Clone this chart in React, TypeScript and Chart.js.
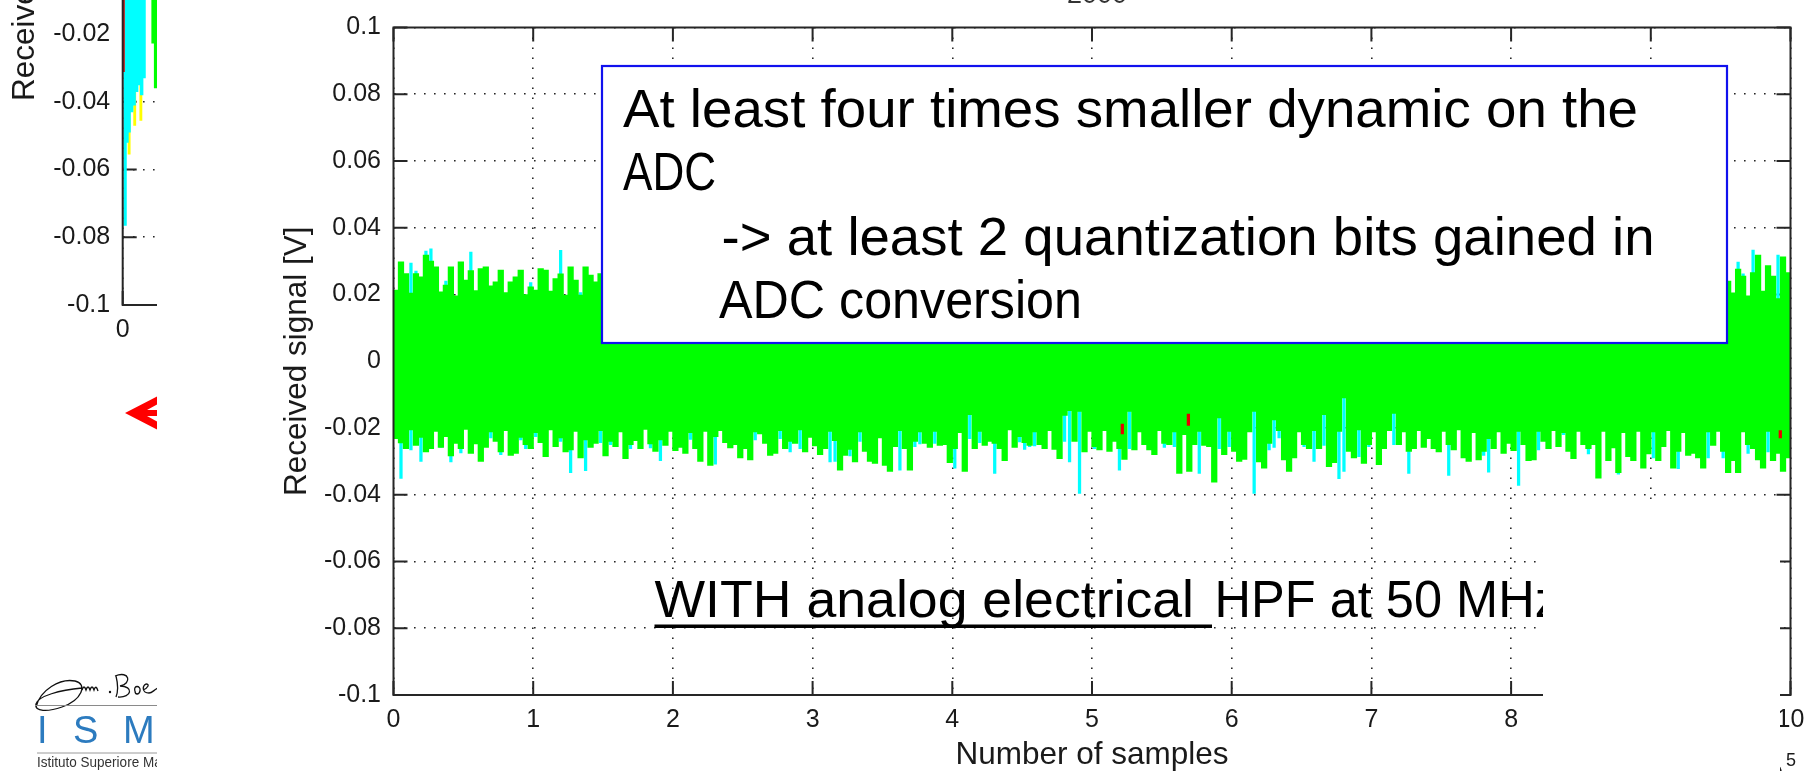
import React, { useEffect, useRef } from 'react';
import { Chart, registerables } from 'chart.js';

Chart.register(...registerables);

const FONT = "'Liberation Sans', Arial, Helvetica, sans-serif";

// ---------- axes ----------
const X_TICK_LABELS = ['0', '1', '2', '3', '4', '5', '6', '7', '8', '9', '10'];
const Y_TICK_LABELS = ['-0.1', '-0.08', '-0.06', '-0.04', '-0.02', '0', '0.02', '0.04', '0.06', '0.08', '0.1'];
const X_MAX = 10; // x 10^5 samples
const UNIT = 1e-4; // all signal arrays below are in units of 0.1 mV

// ---------- main plot: per-bin envelope (280 bins over 0..10 x10^5 samples) ----------
const greenLo = [
  -232, -245, -262, -206, -252, -228, -272, -262, -210, -258, -226, -284, -246, -262, -204, -276, -248, -300, -258, -212,
  -240, -272, -208, -282, -276, -228, -250, -262, -214, -244, -286, -206, -256, -230, -272, -266, -210, -290, -236, -258,
  -246, -208, -284, -240, -256, -212, -292, -250, -238, -262, -204, -248, -270, -236, -252, -210, -268, -258, -276, -214,
  -262, -300, -210, -312, -226, -208, -244, -260, -250, -290, -262, -296, -212, -218, -246, -282, -276, -208, -262, -240,
  -246, -206, -272, -228, -254, -280, -262, -210, -238, -326, -282, -264, -302, -212, -270, -300, -306, -230, -312, -330,
  -256, -208, -262, -326, -240, -212, -246, -258, -210, -252, -250, -304, -262, -214, -330, -160, -262, -210, -252, -240,
  -246, -262, -298, -206, -258, -226, -244, -252, -212, -250, -262, -208, -264, -292, -162, -148, -240, -150, -272, -210,
  -256, -266, -208, -270, -240, -262, -294, -150, -266, -212, -250, -266, -280, -208, -246, -250, -212, -336, -220, -330,
  -250, -210, -252, -256, -362, -170, -280, -210, -270, -300, -294, -212, -150, -302, -320, -246, -176, -208, -296, -330,
  -290, -212, -250, -262, -208, -262, -160, -316, -304, -210, -110, -270, -290, -206, -306, -250, -212, -310, -262, -208,
  -156, -250, -212, -270, -262, -208, -258, -232, -262, -272, -210, -250, -266, -206, -290, -300, -214, -296, -270, -232,
  -262, -212, -276, -246, -268, -210, -250, -298, -296, -210, -240, -262, -208, -256, -214, -270, -292, -210, -250, -262,
  -250, -350, -210, -298, -260, -334, -214, -286, -298, -210, -320, -278, -212, -298, -256, -208, -320, -270, -214, -282,
  -276, -290, -320, -212, -252, -210, -270, -334, -298, -334, -212, -250, -262, -296, -320, -210, -298, -276, -330, -290,
];
const greenHi = [
  213, 298, 263, 204, 263, 253, 318, 300, 283, 208, 228, 283, 196, 298, 243, 272, 212, 278, 283, 226,
  238, 273, 206, 238, 253, 273, 200, 223, 213, 278, 273, 210, 248, 262, 198, 283, 243, 198, 283, 258,
  238, 263, 250, 228, 276, 244, 262, 232, 290, 248, 236, 270, 254, 226, 282, 246, 260, 238, 272, 250,
  244, 268, 232, 286, 256, 240, 262, 298, 236, 252, 274, 246, 230, 264, 250, 288, 242, 258, 236, 270,
  256, 240, 276, 232, 262, 294, 248, 236, 268, 254, 242, 280, 230, 258, 272, 246, 236, 290, 252, 264,
  240, 262, 250, 284, 236, 256, 270, 244, 232, 278, 258, 240, 300, 248, 262, 236, 274, 252, 242, 266,
  250, 236, 272, 258, 244, 288, 234, 262, 250, 240, 276, 256, 232, 268, 246, 296, 254, 238, 262, 248,
  262, 244, 236, 280, 254, 240, 266, 250, 292, 238, 258, 246, 272, 234, 260, 250, 284, 242, 256, 236,
  246, 270, 252, 238, 264, 248, 296, 236, 258, 274, 242, 254, 234, 282, 250, 262, 240, 268, 246, 258,
  236, 258, 284, 246, 232, 266, 250, 272, 240, 256, 298, 244, 262, 236, 254, 278, 248, 232, 266, 252,
  270, 248, 236, 262, 288, 242, 256, 234, 276, 250, 264, 240, 254, 292, 238, 260, 246, 272, 232, 258,
  248, 262, 240, 274, 252, 236, 286, 258, 244, 266, 232, 254, 280, 246, 262, 238, 270, 250, 242, 294,
  256, 238, 268, 244, 260, 250, 232, 278, 254, 242, 288, 236, 262, 248, 270, 240, 256, 284, 246, 234,
  262, 240, 274, 250, 236, 268, 252, 240, 205, 276, 255, 196, 266, 318, 210, 287, 255, 188, 313, 266,
];
const cyanLo = [
  -226, -351, -250, -266, -240, -300, -262, -250, -204, -258, -220, -302, -240, -275, -200, -270, -240, -296, -252, -230,
  -232, -280, -200, -276, -270, -236, -262, -256, -226, -238, -280, -200, -250, -240, -266, -334, -204, -284, -328, -250,
  -240, -244, -278, -250, -250, -206, -286, -262, -232, -256, -200, -260, -262, -298, -246, -204, -262, -252, -270, -234,
  -256, -296, -204, -306, -308, -202, -238, -256, -246, -286, -256, -290, -236, -212, -240, -276, -270, -232, -256, -272,
  -240, -262, -266, -222, -250, -274, -256, -302, -300, -320, -276, -284, -296, -240, -262, -294, -300, -224, -306, -324,
  -250, -326, -258, -320, -256, -248, -240, -252, -246, -246, -244, -298, -320, -208, -324, -232, -256, -244, -246, -234,
  -336, -256, -292, -200, -252, -242, -264, -256, -254, -244, -256, -202, -258, -286, -240, -302, -236, -396, -266, -204,
  -262, -260, -202, -266, -236, -326, -288, -262, -260, -206, -246, -262, -276, -202, -258, -246, -256, -330, -216, -324,
  -244, -336, -248, -250, -356, -262, -274, -256, -264, -294, -288, -206, -396, -296, -314, -266, -258, -230, -290, -324,
  -284, -206, -256, -256, -300, -256, -252, -310, -298, -352, -330, -264, -284, -286, -300, -256, -206, -304, -256, -202,
  -250, -246, -206, -336, -256, -202, -252, -226, -256, -266, -204, -342, -262, -200, -284, -294, -208, -290, -282, -332,
  -256, -206, -270, -240, -262, -372, -244, -292, -290, -266, -234, -256, -202, -250, -220, -264, -286, -204, -246, -278,
  -244, -344, -204, -292, -254, -338, -208, -280, -292, -204, -314, -272, -290, -292, -250, -202, -314, -322, -208, -276,
  -270, -284, -314, -290, -246, -204, -290, -328, -292, -328, -206, -276, -256, -290, -314, -272, -292, -270, -324, -284,
];
const cyanHi = [
  205, 290, 258, 294, 270, 246, 330, 337, 276, 200, 240, 276, 190, 292, 236, 327, 206, 272, 278, 220,
  232, 266, 200, 232, 246, 266, 196, 236, 206, 272, 266, 204, 242, 332, 192, 276, 236, 206, 276, 252,
  232, 258, 244, 222, 270, 238, 256, 226, 284, 242, 230, 264, 248, 220, 276, 240, 254, 232, 266, 244,
  238, 262, 226, 280, 250, 234, 256, 292, 230, 246, 268, 240, 224, 258, 244, 282, 236, 252, 230, 264,
  250, 234, 270, 226, 256, 288, 242, 230, 262, 248, 236, 274, 224, 252, 266, 240, 230, 284, 246, 258,
  234, 256, 244, 278, 230, 250, 264, 238, 226, 272, 252, 234, 294, 242, 256, 230, 268, 246, 236, 260,
  244, 230, 266, 252, 238, 282, 228, 256, 244, 234, 270, 250, 226, 262, 240, 290, 248, 232, 256, 242,
  256, 238, 230, 274, 248, 234, 260, 244, 286, 232, 252, 240, 266, 228, 254, 244, 278, 236, 250, 230,
  240, 264, 246, 232, 258, 242, 290, 230, 252, 268, 236, 248, 228, 276, 244, 256, 234, 262, 240, 252,
  230, 252, 278, 240, 226, 260, 244, 266, 234, 250, 292, 238, 256, 230, 248, 272, 242, 226, 260, 246,
  264, 242, 230, 256, 282, 236, 250, 228, 270, 244, 258, 234, 248, 286, 232, 254, 240, 266, 226, 252,
  242, 256, 234, 268, 246, 230, 280, 252, 238, 260, 226, 248, 274, 240, 256, 232, 264, 244, 236, 288,
  250, 232, 262, 238, 254, 244, 226, 272, 248, 236, 282, 230, 256, 242, 264, 234, 250, 278, 240, 228,
  256, 234, 268, 244, 230, 262, 246, 234, 200, 297, 262, 190, 333, 312, 204, 281, 250, 318, 308, 262,
];
// sparse red samples (x in 10^5 samples)
const redX = [5.217, 5.69, 9.927];
const redLo = [-218, -192, -230];
const redHi = [-188, -158, -208];

// ---------- partially visible left plot ----------
const leftCyanX = [0.017, 0.031, 0.046, 0.064, 0.082, 0.1, 0.118, 0.136, 0.153];
const leftCyanLo = [-765, -520, -490, -430, -410, -370, -350, -380, -330];
const leftCyanHi = [600, 600, 600, 600, 600, 600, 600, 600, 600];
const leftYellowX = [0.046, 0.086, 0.13];
const leftYellowLo = [-555, -470, -455];
const leftYellowHi = [500, 500, 500];
const leftGreenX = [0.217, 0.235];
const leftGreenLo = [-227, -359];
const leftGreenHi = [500, 500];
const leftRedX = [0.006];
const leftRedLo = [-311];
const leftRedHi = [400];

const binWidth = X_MAX / greenLo.length;
const binned = (lo: number[], hi: number[]) =>
  lo.map((l, i) => ({ x: (i + 0.5) * binWidth, y: [l * UNIT, hi[i] * UNIT] }));
const pointsAt = (xs: number[], lo: number[], hi: number[]) =>
  xs.map((x, i) => ({ x, y: [lo[i] * UNIT, hi[i] * UNIT] }));

const findLabel = (labels: string[], v: number) =>
  labels.find((l) => Math.abs(parseFloat(l) - v) < 1e-6) ?? '';

const framePlugin = {
  id: 'matlabFrame',
  beforeDatasetsDraw(chart: any) {
    const { ctx, chartArea: a, scales } = chart;
    const x = scales.x;
    const y = scales.y;
    const len = 14;
    ctx.save();
    ctx.strokeStyle = '#262626';
    ctx.lineWidth = 2;
    ctx.beginPath();
    x.ticks.forEach((t: any) => {
      const px = x.getPixelForValue(t.value);
      ctx.moveTo(px, a.bottom);
      ctx.lineTo(px, a.bottom - len);
      ctx.moveTo(px, a.top);
      ctx.lineTo(px, a.top + len);
    });
    y.ticks.forEach((t: any) => {
      const py = y.getPixelForValue(t.value);
      ctx.moveTo(a.left, py);
      ctx.lineTo(a.left + len, py);
      ctx.moveTo(a.right, py);
      ctx.lineTo(a.right - len, py);
    });
    ctx.stroke();
    ctx.restore();
  },
  afterDatasetsDraw(chart: any) {
    const { ctx, chartArea: a } = chart;
    ctx.save();
    ctx.strokeStyle = '#262626';
    ctx.lineWidth = 2;
    ctx.strokeRect(a.left, a.top, a.right - a.left, a.bottom - a.top);
    ctx.restore();
  },
};

function buildConfig(opts: {
  datasets: any[];
  yWidth: number;
  xHeight: number;
  padding: any;
  yTitlePad: number;
  xTitlePad: number;
}) {
  const tickFont = { family: FONT, size: 25 };
  const titleFont = { family: FONT, size: 31.5 };
  const grid = { color: '#262626', lineWidth: 1.6, drawTicks: false, offset: false };
  const border = { display: false, dash: [1.6, 8.4] };
  return {
    type: 'bar',
    data: { datasets: opts.datasets },
    options: {
      animation: false,
      responsive: false,
      maintainAspectRatio: false,
      events: [],
      layout: { padding: opts.padding },
      datasets: { bar: { grouped: false, borderWidth: 0 } },
      plugins: { legend: { display: false }, tooltip: { enabled: false }, title: { display: false } },
      scales: {
        x: {
          type: 'linear',
          min: 0,
          max: X_MAX,
          offset: false,
          grid,
          border,
          ticks: {
            stepSize: 1,
            autoSkip: false,
            maxRotation: 0,
            color: '#1a1a1a',
            font: tickFont,
            padding: 10,
            callback: (v: number) => findLabel(X_TICK_LABELS, v),
          },
          title: {
            display: true,
            text: 'Number of samples',
            color: '#1a1a1a',
            font: titleFont,
            padding: { top: 0, bottom: opts.xTitlePad },
          },
          afterFit: (s: any) => {
            s.height = opts.xHeight;
          },
        },
        y: {
          type: 'linear',
          min: -0.1,
          max: 0.1,
          grid,
          border,
          ticks: {
            stepSize: 0.02,
            autoSkip: false,
            color: '#1a1a1a',
            font: tickFont,
            padding: 12.5,
            callback: (v: number) => findLabel(Y_TICK_LABELS, v),
          },
          title: {
            display: true,
            text: 'Received signal [V]',
            color: '#1a1a1a',
            font: titleFont,
            padding: { top: opts.yTitlePad, bottom: 0 },
          },
          afterFit: (s: any) => {
            s.width = opts.yWidth;
          },
        },
      },
    },
    plugins: [framePlugin],
  } as any;
}

export default function App() {
  const mainRef = useRef<HTMLCanvasElement | null>(null);
  const leftRef = useRef<HTMLCanvasElement | null>(null);

  useEffect(() => {
    const main = new Chart(
      mainRef.current as HTMLCanvasElement,
      buildConfig({
        datasets: [
          { label: 'red', data: pointsAt(redX, redLo, redHi), backgroundColor: '#e80000', barThickness: 2.6 },
          { label: 'green', data: binned(greenLo, greenHi), backgroundColor: '#00ff00', barThickness: 5.6 },
          { label: 'cyan', data: binned(cyanLo, cyanHi), backgroundColor: '#00ffff', barThickness: 2.6 },
        ],
        yWidth: 193.5,
        xHeight: 105,
        padding: { left: 0, right: 49.5, top: 22, bottom: 0 },
        yTitlePad: 78,
        xTitlePad: 26,
      })
    );
    const left = new Chart(
      leftRef.current as HTMLCanvasElement,
      buildConfig({
        datasets: [
          { label: 'red', data: pointsAt(leftRedX, leftRedLo, leftRedHi), backgroundColor: '#e80000', barThickness: 1.8 },
          { label: 'green', data: pointsAt(leftGreenX, leftGreenLo, leftGreenHi), backgroundColor: '#00ff00', barThickness: 2.6 },
          { label: 'cyan', data: pointsAt(leftCyanX, leftCyanLo, leftCyanHi), backgroundColor: '#00ffff', barThickness: 2.7 },
          { label: 'yellow', data: pointsAt(leftYellowX, leftYellowLo, leftYellowHi), backgroundColor: '#ffff00', barThickness: 2.2 },
        ],
        yWidth: 122.7,
        xHeight: 95,
        padding: { left: 0, right: 80.3, top: 27.5, bottom: 0 },
        yTitlePad: 6,
        xTitlePad: 20,
      })
    );
    return () => {
      main.destroy();
      left.destroy();
    };
  }, []);

  return (
    <div
      style={{
        position: 'fixed',
        left: 0,
        top: 0,
        width: 1804,
        height: 771,
        overflow: 'hidden',
        background: '#ffffff',
      }}
    >
      <canvas
        ref={mainRef}
        width={1640}
        height={800}
        style={{ position: 'absolute', left: 200, top: 0, width: 1640, height: 800 }}
      />
      <div style={{ position: 'absolute', left: 0, top: 0, width: 157, height: 345, overflow: 'hidden' }}>
        <canvas
          ref={leftRef}
          width={1600}
          height={800}
          style={{ position: 'absolute', left: 0, top: -400, width: 1600, height: 800 }}
        />
      </div>
      <svg
        width={1804}
        height={771}
        style={{ position: 'absolute', left: 0, top: 0, pointerEvents: 'none' }}
      >
        <defs>
          <clipPath id="leftClip">
            <rect x={0} y={0} width={157} height={771} />
          </clipPath>
        </defs>
        <text x={1097} y={3} textAnchor="middle" fontFamily={FONT} fontSize={27} fill="#333">
          2000
        </text>
        <rect x={602} y={66} width={1125} height={277} fill="#ffffff" stroke="#1111ee" strokeWidth={2.2} />
        <g fontFamily={FONT} fontSize={54.5} fill="#000">
          <text x={623} y={127} textLength={1015} lengthAdjust="spacingAndGlyphs">
            At least four times smaller dynamic on the
          </text>
          <text x={623} y={190} textLength={93} lengthAdjust="spacingAndGlyphs">
            ADC
          </text>
          <text x={721.5} y={254.5} textLength={933} lengthAdjust="spacingAndGlyphs">
            -&gt; at least 2 quantization bits gained in
          </text>
          <text x={719} y={318} textLength={363} lengthAdjust="spacingAndGlyphs">
            ADC conversion
          </text>
        </g>
        <g fontFamily={FONT} fontSize={52} fill="#000">
          <text x={654.5} y={617} textLength={539.5} lengthAdjust="spacingAndGlyphs">
            WITH analog electrical
          </text>
          <text x={1214.5} y={617} textLength={345.5} lengthAdjust="spacingAndGlyphs">
            HPF at 50 MHz
          </text>
        </g>
        <rect x={654.5} y={624.5} width={557.5} height={3.5} fill="#000" />
        <text x={1783} y={783} textAnchor="end" fontFamily={FONT} fontSize={25} fill="#1a1a1a">
          x 10
        </text>
        <text x={1786} y={766} fontFamily={FONT} fontSize={18} fill="#1a1a1a">
          5
        </text>
        <rect x={1543} y={507} width={237} height={264} fill="#ffffff" />
        <g clipPath="url(#leftClip)">
          <polygon
            points="125,413 158,396 158,404 147,410 158,410 158,416 147,416 158,422 158,430"
            fill="#ff0000"
          />
          <g fill="none" stroke="#111" strokeWidth={1.3}>
            <path d="M36,707 C40,690 60,678 75,681 C88,684 82,700 62,707 C48,712 34,712 36,704 C38,696 60,690 82,688" />
            <path d="M82,690 q2,-6 4,0 q2,-6 4,0 q2,-6 4,0 q2,-6 4,1" />
            <path d="M116,676 C118,684 118,692 116,697 M115,676 C130,670 132,684 120,686 C134,686 132,698 118,697" />
            <path d="M135,691 C133,685 141,685 140,691 C139,695 135,695 135,691 M143,690 C148,688 150,684 146,684 C142,686 142,693 149,693 C152,693 154,690 158,688" />
          </g>
          <circle cx={110} cy={692} r={1.2} fill="#111" />
          <line x1={35} y1={705.5} x2={160} y2={705.5} stroke="#8a8a8a" strokeWidth={1} />
          <g fontFamily={FONT} fontSize={38} fill="#2c7bbf">
            <text x={37} y={743}>I</text>
            <text x={73} y={743}>S</text>
            <text x={123} y={743}>M</text>
          </g>
          <line x1={37} y1={753} x2={160} y2={753} stroke="#9a9a9a" strokeWidth={1} />
          <text x={37} y={767} fontFamily={FONT} fontSize={15} fill="#333" textLength={181} lengthAdjust="spacingAndGlyphs">
            Istituto Superiore Mario Boella
          </text>
        </g>
      </svg>
    </div>
  );
}
